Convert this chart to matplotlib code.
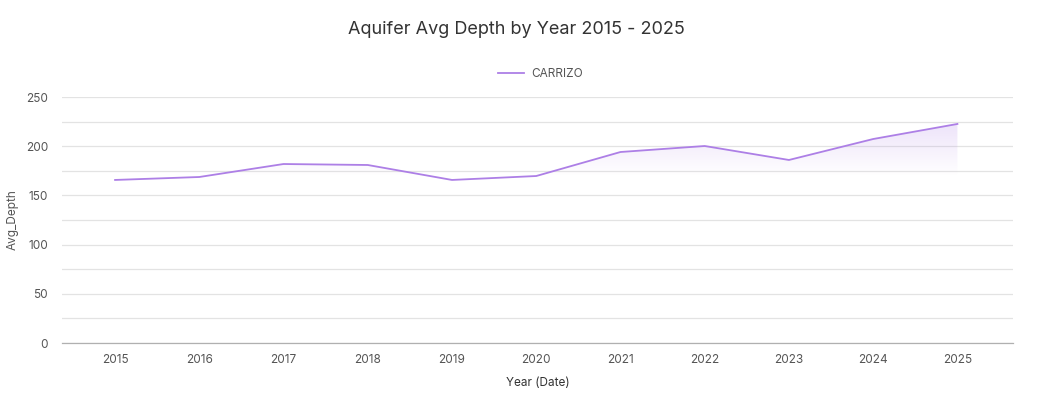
import numpy as np
import matplotlib
matplotlib.use("Agg")
import matplotlib.pyplot as plt
from matplotlib.patches import Polygon

plt.rcParams['font.family'] = ['Inter', 'DejaVu Sans']

# Data
years = [2015, 2016, 2017, 2018, 2019, 2020, 2021, 2022, 2023, 2024, 2025]
avg_depth = [165.7, 168.7, 181.9, 180.9, 165.7, 169.7, 194.1, 200.2, 186.0, 207.3, 222.6]
series_name = "CARRIZO"

line_color = "#ad7fe6"
text_color = "#555555"

fig = plt.figure(figsize=(10.45, 4.04), dpi=100)
ax = fig.add_axes([62 / 1045, 1 - 343 / 404, (1013 - 62) / 1045, (343 - 97) / 404])

ax.set_xlim(2014.37, 2025.66)
ax.set_ylim(0, 250)

# gradient fill under the line, fading out towards ~170
rgba = np.zeros((256, 1, 4))
rgba[..., :3] = matplotlib.colors.to_rgb(line_color)
lo, hi = 170, 225
yy = np.linspace(0, 250, 256).reshape(-1, 1)
rgba[..., 3] = np.clip((yy - lo) / (hi - lo), 0, 1) * 0.22
img = ax.imshow(rgba, extent=[years[0], years[-1], 0, 250], origin="lower",
                aspect="auto", zorder=1)
poly = Polygon(list(zip(years, avg_depth)) + [(years[-1], 0), (years[0], 0)],
               closed=True, facecolor="none", edgecolor="none")
ax.add_patch(poly)
img.set_clip_path(poly)

ax.plot(years, avg_depth, color=line_color, lw=1.3, label=series_name, zorder=3)

# grid and axes styling
ax.set_yticks(np.arange(0, 251, 25))
ax.set_yticklabels([str(v) if v % 50 == 0 else "" for v in range(0, 251, 25)])
ax.set_xticks(years)
ax.grid(axis="y", color="#e3e3e3", lw=0.9, zorder=0)
ax.set_axisbelow(True)
for s in ["top", "right", "left"]:
    ax.spines[s].set_visible(False)
ax.spines["bottom"].set_color("#b0b0b0")
ax.spines["bottom"].set_linewidth(0.9)
ax.tick_params(axis="both", length=0, labelsize=8.5, labelcolor=text_color)
ax.tick_params(axis="x", pad=8)
ax.tick_params(axis="y", pad=10)

ax.set_xlabel("Year (Date)", fontsize=8.5, color="#333333", labelpad=8)
ax.set_ylabel("Avg_Depth", fontsize=8.5, color=text_color)
ax.yaxis.set_label_coords((19 - 62) / 951, 0.5)

fig.text(0.494, 1 - 30 / 404, "Aquifer Avg Depth by Year 2015 - 2025",
         ha="center", va="center", fontsize=13, color="#333333")

leg = fig.legend(loc="center", bbox_to_anchor=(0.517, 1 - 74 / 404), frameon=False,
                 fontsize=8.5, handlelength=2.2, handletextpad=0.6)
for t in leg.get_texts():
    t.set_color(text_color)

fig.savefig("out.png", dpi=100)
